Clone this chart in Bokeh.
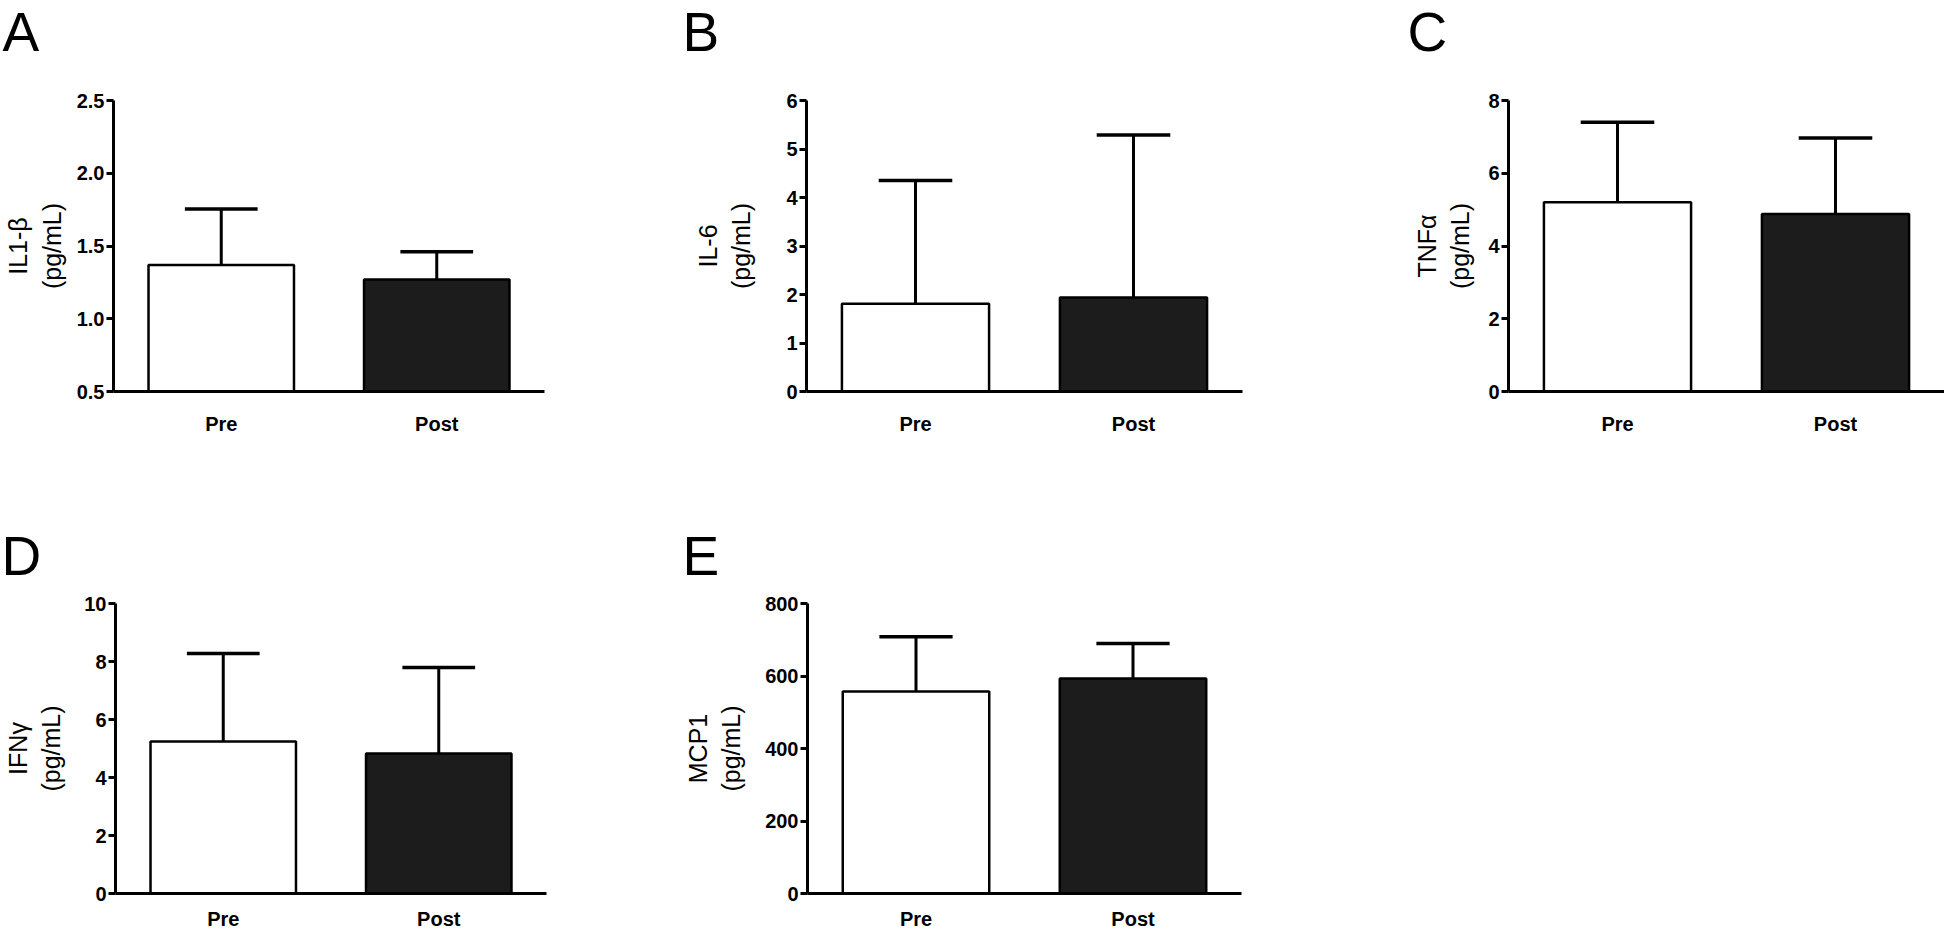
from bokeh.plotting import figure
from bokeh.layouts import row, column
from bokeh.models import FixedTicker, LinearAxis, NumeralTickFormatter, Range1d
from bokeh.core.properties import value
from bokeh.embed import file_html
from bokeh.resources import INLINE

# ---- data ----
groups = ["Pre", "Post"]
x_pos = [1, 2]
bar_colors = ["#ffffff", "#1c1c1c"]

il1b_mean = [1.37, 1.27]
il1b_sd = [0.385, 0.19]
il1b_ticks = [0.5, 1.0, 1.5, 2.0, 2.5]

il6_mean = [1.81, 1.94]
il6_sd = [2.54, 3.35]
il6_ticks = [0, 1, 2, 3, 4, 5, 6]

tnfa_mean = [5.2, 4.88]
tnfa_sd = [2.2, 2.09]
tnfa_ticks = [0, 2, 4, 6, 8]

ifng_mean = [5.24, 4.83]
ifng_sd = [3.04, 2.96]
ifng_ticks = [0, 2, 4, 6, 8, 10]

mcp1_mean = [557, 593]
mcp1_sd = [151, 97]
mcp1_ticks = [0, 200, 400, 600, 800]

top_letters = ["A", "B", "C"]
bottom_letters = ["D", "E"]
unit = "(pg/mL)"

FONT = "Liberation Sans"
BAR_W = 0.675
CAP_HALF = BAR_W / 4


def letter_strip(w, h, xs, ymid, letters):
    s = figure(width=w, height=h, x_range=Range1d(0, w), y_range=Range1d(h, 0),
               min_border_left=0, min_border_right=0, min_border_top=0, min_border_bottom=0,
               x_axis_location=None, y_axis_location=None,
               output_backend="svg", toolbar_location=None)
    s.outline_line_color = None
    s.background_fill_color = "white"
    s.border_fill_color = "white"
    s.grid.visible = False
    s.text(x=xs, y=[ymid] * len(xs), text=letters, text_font=value(FONT),
           text_font_size="55px", text_color="black",
           text_baseline="middle", text_align="left")
    return s


def panel(name, means, sds, ticks, fmt, w, h, left, right, top, bottom,
          ylab_standoff, outer_standoff, xlab_standoff, x_end=2.5):
    p = figure(width=w, height=h, min_border_left=left, min_border_right=right,
               min_border_top=top, min_border_bottom=bottom,
               x_range=Range1d(0.5, x_end), y_range=Range1d(ticks[0], ticks[-1]),
               output_backend="svg", toolbar_location=None)
    p.outline_line_color = None
    p.background_fill_color = "white"
    p.border_fill_color = "white"
    p.xgrid.visible = False
    p.ygrid.visible = False

    p.vbar(x=x_pos, width=BAR_W, top=means, bottom=ticks[0],
           fill_color=bar_colors, line_color="black", line_width=2.5)
    upper = [m + s for m, s in zip(means, sds)]
    p.segment(x0=x_pos, y0=means, x1=x_pos, y1=upper, line_color="black", line_width=3)
    p.segment(x0=[x - CAP_HALF for x in x_pos], y0=upper,
              x1=[x + CAP_HALF for x in x_pos], y1=upper,
              line_color="black", line_width=3.5)

    xa = p.xaxis[0]
    xa.ticker = FixedTicker(ticks=x_pos)
    xa.major_label_overrides = {x: g for x, g in zip(x_pos, groups)}
    xa.major_tick_line_color = None
    xa.minor_tick_line_color = None
    xa.major_tick_out = 0
    xa.major_tick_in = 0
    xa.axis_line_width = 3
    xa.axis_line_color = "black"
    xa.major_label_standoff = xlab_standoff
    xa.major_label_text_font = FONT
    xa.major_label_text_font_size = "20px"
    xa.major_label_text_font_style = "bold"
    xa.major_label_text_color = "black"

    ya = p.yaxis[0]
    ya.ticker = FixedTicker(ticks=ticks)
    ya.formatter = NumeralTickFormatter(format=fmt)
    ya.minor_tick_line_color = None
    ya.major_tick_out = 7
    ya.major_tick_in = 0
    ya.major_tick_line_width = 3
    ya.major_tick_line_color = "black"
    ya.axis_line_width = 3
    ya.axis_line_color = "black"
    ya.major_label_standoff = 2
    ya.major_label_text_font = FONT
    ya.major_label_text_font_size = "20px"
    ya.major_label_text_font_style = "bold"
    ya.major_label_text_color = "black"
    ya.axis_label = unit
    ya.axis_label_text_font = FONT
    ya.axis_label_text_font_size = "25px"
    ya.axis_label_text_font_style = "normal"
    ya.axis_label_text_color = "black"
    ya.axis_label_standoff = ylab_standoff

    # first line of the y title (analyte name), as a bare outer axis label
    outer = LinearAxis(ticker=FixedTicker(ticks=[]), axis_line_color=None,
                       major_tick_line_color=None, minor_tick_line_color=None,
                       major_tick_out=0, major_tick_in=0, minor_tick_out=0, minor_tick_in=0,
                       major_label_standoff=0, axis_label=name,
                       axis_label_text_font=FONT, axis_label_text_font_size="25px",
                       axis_label_text_font_style="normal", axis_label_text_color="black",
                       axis_label_standoff=outer_standoff)
    p.add_layout(outer, "left")
    return p


# top row: letters strip (y 0-63), panels (y 63-511)
strip1 = letter_strip(1944, 63, [2, 682, 1407], 31.5, top_letters)
pa = panel("IL1-β", il1b_mean, il1b_sd, il1b_ticks, "0.0",
           680, 448, 108, 136, 37, 120, 8, 3, 21)
pb = panel("IL-6", il6_mean, il6_sd, il6_ticks, "0",
           720, 448, 126, 158, 37, 120, 28, 3, 21)
pc = panel("TNFα", tnfa_mean, tnfa_sd, tnfa_ticks, "0",
           544, 448, 108, 0, 37, 120, 11, 3, 21)
# bottom row: letters strip (y 511-586), panels (y 586-935)
strip2 = letter_strip(1944, 75, [1, 682], 44, bottom_letters)
pd = panel("IFNγ", ifng_mean, ifng_sd, ifng_ticks, "0",
           680, 349, 110, 134, 17, 42, 16, 3, 14)
pe = panel("MCP1", mcp1_mean, mcp1_sd, mcp1_ticks, "0",
           720, 349, 125, 159, 17, 42, 17, 3, 14)

layout = column(strip1, row(pa, pb, pc), strip2, row(pd, pe))
open("out.html", "w").write(file_html(layout, INLINE))
